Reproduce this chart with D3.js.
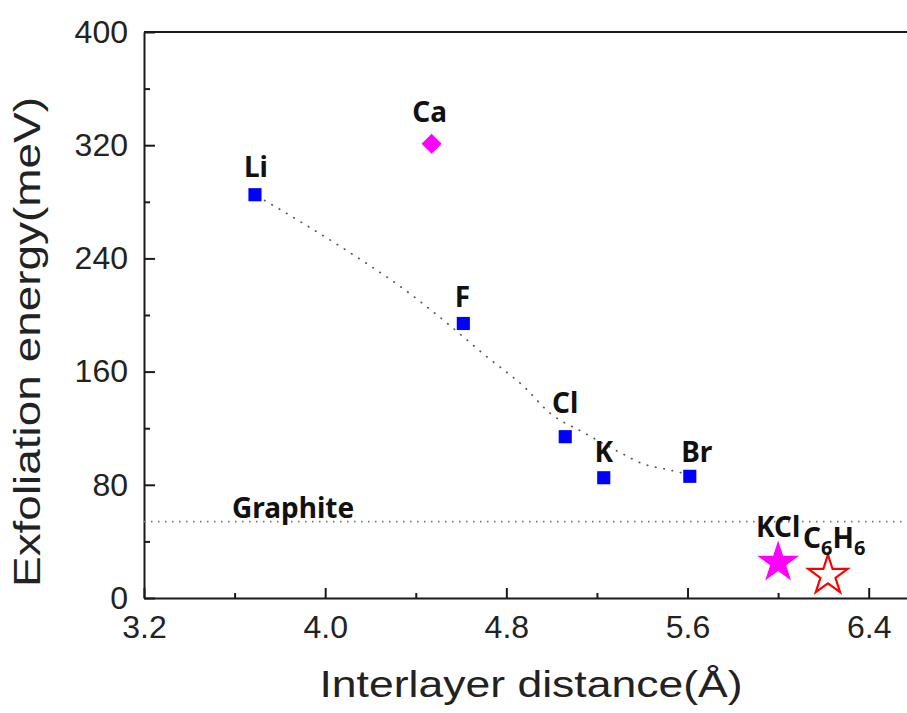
<!DOCTYPE html>
<html>
<head>
<meta charset="utf-8">
<script src="https://cdn.jsdelivr.net/npm/d3@7"></script>
<style>
  body { margin: 0; background: #fff; }
  svg { display: block; }
</style>
</head>
<body>
<svg width="907" height="713"></svg>
<script>
// exfoliation energy vs interlayer distance

var elements = ["Li", "F", "Cl", "K", "Br"];
var distance = [3.69, 4.61, 5.06, 5.23, 5.61];
var energy = [285, 194, 114, 85, 86];

var caName = "Ca";
var caDistance = 4.47;
var caEnergy = 321;

var starNames = ["KCl", "C6H6"];
var starDistance = [6.0, 6.22];
var starEnergy = [25, 16];

var graphiteEnergy = 54;

// dotted guide curve
var fitDistance = [3.70, 3.89, 4.11, 4.35, 4.54, 4.71, 4.88, 4.99, 5.14, 5.30, 5.40, 5.52, 5.60];
var fitEnergy = [284, 266, 244, 218, 194, 171, 149, 131, 117, 103, 95, 90.5, 87.5];

var xTicks = [3.2, 4.0, 4.8, 5.6, 6.4];
var xMinor = [3.6, 4.4, 5.2, 6.0];
var yTicks = [0, 80, 160, 240, 320, 400];
var yMinor = [40, 120, 200, 280, 360];

var svg = d3.select("svg"),
    margin = {top: 32, left: 144},
    width = 770,
    height = 566,
    g = svg.append("g").attr("transform", "translate(" + margin.left + "," + margin.top + ")");

var x = d3.scaleLinear().domain([3.2, 6.6]).range([0, width]);
var y = d3.scaleLinear().domain([0, 400]).range([height, 0]);

var tickFont = "'Liberation Sans', Arial, sans-serif";
var labelFont = "'Noto Sans', 'Open Sans', sans-serif";
var ink = "#1a1a1a";
var labelSize = "28px";

// axes
var xAxis = g.append("g")
    .attr("transform", "translate(0," + height + ")")
    .call(d3.axisBottom(x).tickValues(xTicks).tickSize(-10).tickSizeOuter(0).tickPadding(17).tickFormat(d3.format(".1f")));
var xAxisMinor = g.append("g")
    .attr("transform", "translate(0," + height + ")")
    .call(d3.axisBottom(x).tickValues(xMinor).tickSize(-5).tickSizeOuter(0).tickFormat(""));
var yAxis = g.append("g")
    .call(d3.axisLeft(y).tickValues(yTicks).tickSize(-11).tickSizeOuter(0).tickPadding(16));
var yAxisMinor = g.append("g")
    .call(d3.axisLeft(y).tickValues(yMinor).tickSize(-6).tickSizeOuter(0).tickFormat(""));

[xAxis, xAxisMinor, yAxis, yAxisMinor].forEach(function(a) {
  a.selectAll("path, line").attr("stroke", ink).attr("stroke-width", 2);
  a.selectAll("text")
      .attr("fill", "#222")
      .style("font-family", tickFont)
      .style("font-size", "32px");
});
xAxisMinor.select(".domain").remove();
yAxisMinor.select(".domain").remove();

// top frame line
g.append("line")
    .attr("x1", 0).attr("x2", width)
    .attr("y1", 0).attr("y2", 0)
    .attr("stroke", ink)
    .attr("stroke-width", 2);

// axis titles
svg.append("text")
    .attr("x", 531)
    .attr("y", 697)
    .attr("text-anchor", "middle")
    .attr("textLength", 423)
    .attr("lengthAdjust", "spacingAndGlyphs")
    .attr("fill", "#222")
    .style("font-family", tickFont)
    .style("font-size", "36px")
    .text("Interlayer distance(Å)");

svg.append("text")
    .attr("transform", "translate(40,342) rotate(-90)")
    .attr("text-anchor", "middle")
    .attr("textLength", 490)
    .attr("lengthAdjust", "spacingAndGlyphs")
    .attr("fill", "#222")
    .style("font-family", tickFont)
    .style("font-size", "36px")
    .text("Exfoliation energy(meV)");

// graphite reference line
g.append("line")
    .attr("x1", 0).attr("x2", width)
    .attr("y1", y(graphiteEnergy)).attr("y2", y(graphiteEnergy))
    .attr("stroke", "#777")
    .attr("stroke-width", 1.6)
    .attr("stroke-dasharray", "1.5,5.5");

g.append("text")
    .attr("x", x(3.2) + 88)
    .attr("y", y(graphiteEnergy) - 3.5)
    .attr("fill", "#111")
    .style("font-family", labelFont)
    .style("font-weight", "bold")
    .style("font-size", labelSize)
    .text("Graphite");

// dotted guide curve
var fit = fitDistance.map(function(d, i) { return {d: d, e: fitEnergy[i]}; });
var lineFit = d3.line()
    .x(function(p) { return x(p.d); })
    .y(function(p) { return y(p.e); })
    .curve(d3.curveMonotoneX);

g.append("path")
    .datum(fit)
    .attr("fill", "none")
    .attr("stroke", "#555")
    .attr("stroke-width", 1.7)
    .attr("stroke-linecap", "round")
    .attr("stroke-dasharray", "0.5,8")
    .attr("d", lineFit);

// halogen / alkali squares
var pts = elements.map(function(n, i) { return {name: n, d: distance[i], e: energy[i]}; });
var nudge = {Li: [1, -18], F: [-1, -16], Cl: [0, -24], K: [0, -16], Br: [7, -14]};

g.selectAll(".sq")
    .data(pts)
  .enter().append("path")
    .attr("class", "sq")
    .attr("transform", function(p) { return "translate(" + x(p.d) + "," + y(p.e) + ")"; })
    .attr("d", d3.symbol().type(d3.symbolSquare).size(172))
    .attr("fill", "#0000ff");

g.selectAll(".lab")
    .data(pts)
  .enter().append("text")
    .attr("class", "lab")
    .attr("x", function(p) { return x(p.d) + nudge[p.name][0]; })
    .attr("y", function(p) { return y(p.e) + nudge[p.name][1]; })
    .attr("text-anchor", "middle")
    .attr("fill", "#111")
    .style("font-family", labelFont)
    .style("font-weight", "bold")
    .style("font-size", labelSize)
    .text(function(p) { return p.name; });

// Ca diamond
g.append("path")
    .attr("transform", "translate(" + x(caDistance) + "," + y(caEnergy) + ") rotate(45)")
    .attr("d", d3.symbol().type(d3.symbolSquare).size(200))
    .attr("fill", "#ff00ff");

g.append("text")
    .attr("x", x(caDistance) - 2)
    .attr("y", y(caEnergy) - 22)
    .attr("text-anchor", "middle")
    .attr("fill", "#111")
    .style("font-family", labelFont)
    .style("font-weight", "bold")
    .style("font-size", labelSize)
    .text(caName);

// stars
g.append("path")
    .attr("transform", "translate(" + x(starDistance[0]) + "," + y(starEnergy[0]) + ")")
    .attr("d", d3.symbol().type(d3.symbolStar).size(545))
    .attr("fill", "#ff00ff");

g.append("path")
    .attr("transform", "translate(" + x(starDistance[1]) + "," + y(starEnergy[1]) + ")")
    .attr("d", d3.symbol().type(d3.symbolStar).size(480))
    .attr("fill", "#fff")
    .attr("stroke", "#ff0000")
    .attr("stroke-width", 2.2);

g.append("text")
    .attr("x", x(starDistance[0]))
    .attr("y", y(starEnergy[0]) - 26)
    .attr("text-anchor", "middle")
    .attr("fill", "#111")
    .style("font-family", labelFont)
    .style("font-weight", "bold")
    .style("font-size", labelSize)
    .text(starNames[0]);

var c6 = g.append("text")
    .attr("x", x(starDistance[0]) + 25)
    .attr("y", y(starEnergy[1]) - 27)
    .attr("fill", "#111")
    .style("font-family", labelFont)
    .style("font-weight", "bold")
    .style("font-size", labelSize);
c6.append("tspan").text("C");
c6.append("tspan").attr("dy", 7).style("font-size", "20px").text("6");
c6.append("tspan").attr("dy", -7).text("H");
c6.append("tspan").attr("dy", 7).style("font-size", "20px").text("6");
</script>
</body>
</html>
